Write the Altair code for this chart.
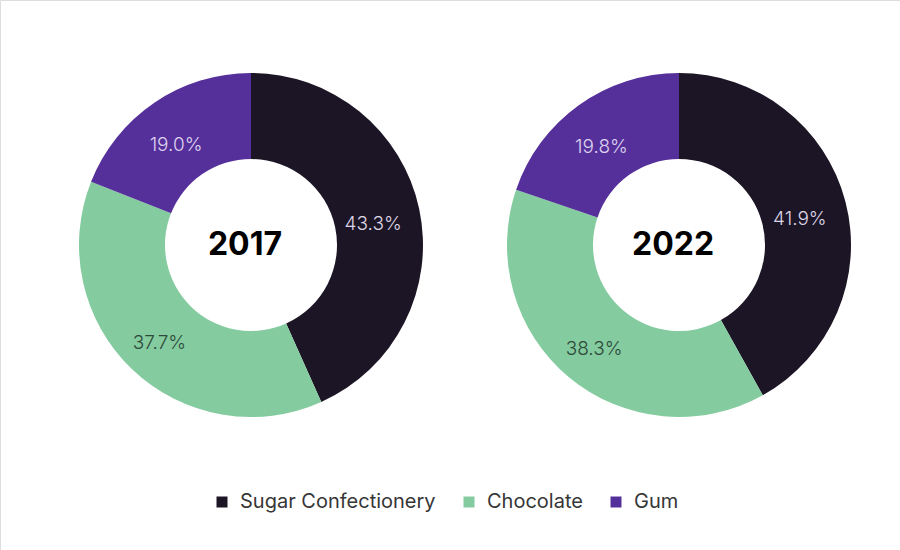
import altair as alt
import pandas as pd

years = ["2017", "2022"]
categories = ["Sugar Confectionery", "Chocolate", "Gum"]
shares_2017 = [43.3, 37.7, 19.0]
shares_2022 = [41.9, 38.3, 19.8]

colors = ["#1c1525", "#84cc9f", "#56309a"]
label_colors = ["#ddd6e6", "#2e4a3a", "#ddd2f0"]

rows = []
for year, shares in zip(years, [shares_2017, shares_2022]):
    start = 0.0
    for cat, val, lc in zip(categories, shares, label_colors):
        rows.append({
            "year": year,
            "category": cat,
            "value": val,
            "start": start,
            "end": start + val,
            "mid": start + val / 2,
            "label": f"{val:.1f}%",
            "label_color": lc,
        })
        start += val
df = pd.DataFrame(rows)

centers = pd.DataFrame({"year": years})

x_enc = alt.X(
    "year:N",
    scale=alt.Scale(type="point", domain=years, range=[251, 679], padding=0),
    axis=None,
)
theta_scale = alt.Scale(domain=[0, 100], range=[0, 6.283185307179586])

arcs = alt.Chart(df).mark_arc(outerRadius=172, innerRadius=86, stroke=None).encode(
    x=x_enc,
    y=alt.value(245),
    theta=alt.Theta("start:Q", scale=theta_scale),
    theta2="end:Q",
    color=alt.Color(
        "category:N",
        scale=alt.Scale(domain=categories, range=colors),
        sort=categories,
        legend=alt.Legend(
            title=None,
            orient="none",
            direction="horizontal",
            legendX=212,
            legendY=492,
            symbolType="square",
            symbolSize=121,
            symbolStrokeWidth=0,
            symbolOpacity=1,
            labelFont="Inter",
            labelFontSize=20,
            labelColor="#363636",
            labelOffset=8,
            labelLimit=300,
            columnPadding=23,
            padding=0,
        ),
    ),
)

labels = alt.Chart(df).mark_text(
    radius=128, font="Inter", fontSize=19, fontWeight=300, dx=-3, dy=6
).encode(
    x=x_enc,
    y=alt.value(245),
    theta=alt.Theta("mid:Q", scale=theta_scale),
    text="label:N",
    color=alt.Color("label_color:N", scale=None),
)

center_text = alt.Chart(centers).mark_text(
    font="Inter", fontSize=32, fontWeight="bold", color="#000000",
    baseline="middle", dx=-6,
).encode(
    x=x_enc,
    y=alt.value(245),
    text="year:N",
)

chart = (
    alt.layer(arcs, labels, center_text)
    .properties(width=900, height=550, autosize=alt.AutoSizeParams(type="none"), padding=0)
    .configure_view(stroke=None)
    .configure(background="#ffffff")
)

chart.save("out.html", embed_options={"renderer": "svg", "actions": False})
